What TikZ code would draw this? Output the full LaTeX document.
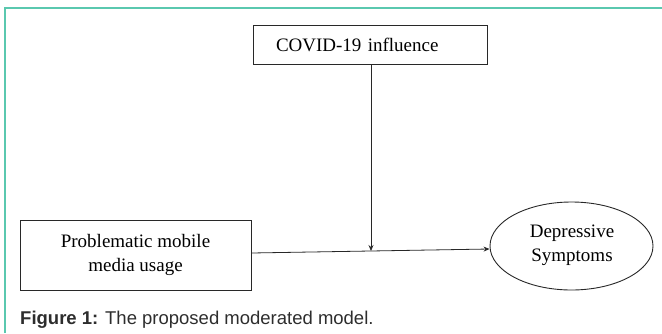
\documentclass[tikz,border=0pt]{standalone}
\usepackage{fontspec}
\setmainfont{Liberation Serif}
\newfontfamily\capfont{Liberation Sans}
\usetikzlibrary{shapes.geometric,arrows.meta}
\definecolor{framecol}{RGB}{90,200,175}
\definecolor{capcol}{RGB}{45,45,45}
\definecolor{linecol}{RGB}{40,40,40}
\tikzset{
  boxnode/.style={draw=linecol, line width=0.9pt, font=\fontsize{19}{24}\selectfont},
  ellnode/.style={draw=linecol, line width=0.9pt, ellipse, inner sep=0pt},
  txt/.style={font=\fontsize{19}{24}\selectfont, align=center},
  arr/.style={draw=linecol, line width=0.8pt, -{Stealth[length=6pt,width=5pt]}},
  framestyle/.style={draw=framecol, line width=1.6pt}
}
\begin{document}
\begin{tikzpicture}[x=1pt,y=-1pt]
\useasboundingbox (0,0) rectangle (662,333);
\draw[framestyle] (5,333) -- (5,8) -- (662,8);
\node[boxnode, inner xsep=23pt, text width=188pt, minimum height=39pt, align=left] (covid) at (370,44.5) {COVID-19 influence};
\node[boxnode, minimum width=231pt, minimum height=70pt, align=center] (pmmu) at (135.5,255) {Problematic mobile\\media usage};
\node[ellnode, minimum width=163pt, minimum height=88pt] (dep) at (571.5,246) {};
\node[txt] (deptext) at (572,245) {Depressive\\Symptoms};
\coordinate (mod) at (371,251);
\draw[arr] ([yshift=2pt]pmmu.east) -- ([yshift=-3pt]dep.west);
\draw[arr] (covid.south -| mod) -- (mod);
\node[anchor=west, inner sep=0pt, text=capcol, font=\capfont\fontsize{18.5}{22}\selectfont] (caption) at (20,320) {\textbf{Figure 1:} The proposed moderated model.};
\end{tikzpicture}
\end{document}
